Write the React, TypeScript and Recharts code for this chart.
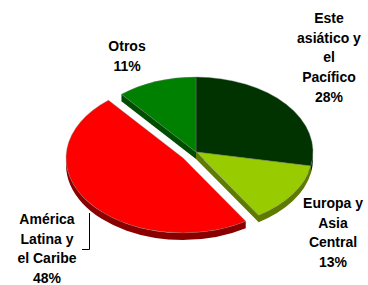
import { PieChart, Pie, Cell } from "recharts";

const regions = ["Este asiático y el Pacífico", "Europa y Asia Central", "América Latina y el Caribe", "Otros"];
const shares = [28, 13, 48, 11];
const labelLines = [
  ["Este", "asiático y", "el", "Pacífico", "28%"],
  ["Europa y", "Asia", "Central", "13%"],
  ["América", "Latina y", "el Caribe", "48%"],
  ["Otros", "11%"],
];
const topColors = ["#003300", "#99CC00", "#FF0000", "#008000"];
const sideColors = ["#001c00", "#5f7a00", "#8a0000", "#004c00"];
const exploded = "América Latina y el Caribe";

// where each label block sits (center x, first baseline)
const labelPos = [
  { x: 329, y: 23 },
  { x: 333, y: 208 },
  { x: 47, y: 224 },
  { x: 127, y: 51 },
];

const data = regions.map((name, i) => ({ name, value: shares[i] }));

const TILT = 0.64;
const DEPTH = 7;
const PULL = 16;
const RAD = Math.PI / 180;

const geom = (props: any) => {
  const name = props.name ?? props.payload?.name;
  let { cx, cy } = props;
  if (name === exploded) {
    cx += PULL * Math.cos(props.midAngle * RAD);
    cy -= PULL * TILT * Math.sin(props.midAngle * RAD);
  }
  const rx = props.outerRadius;
  const ry = rx * TILT;
  const a1 = Math.min(props.startAngle, props.endAngle);
  const a2 = Math.max(props.startAngle, props.endAngle);
  const pt = (a: number, dy = 0) => [cx + rx * Math.cos(a * RAD), cy - ry * Math.sin(a * RAD) + dy];
  return { name, cx, cy, rx, ry, a1, a2, pt };
};

const SideShape = (props: any) => {
  const { name, cx, cy, rx, ry, a1, a2, pt } = geom(props);
  const idx = regions.indexOf(name);
  const fill = sideColors[idx];
  const parts: string[] = [];
  // radial faces turned toward the viewer
  const radial = (a: number) => {
    const p = pt(a);
    parts.push(`M${cx},${cy} L${p[0]},${p[1]} L${p[0]},${p[1] + DEPTH} L${cx},${cy + DEPTH} Z`);
  };
  if (Math.cos(a1 * RAD) > 0) radial(a1);
  if (Math.cos(a2 * RAD) < 0) radial(a2);
  // front rim
  for (let k = -2; k <= 2; k++) {
    const lo = Math.max(a1, -180 + 360 * k);
    const hi = Math.min(a2, 360 * k);
    if (lo < hi) {
      const p = pt(lo);
      const q = pt(hi);
      parts.push(
        `M${p[0]},${p[1]} A${rx},${ry} 0 0 0 ${q[0]},${q[1]} L${q[0]},${q[1] + DEPTH} A${rx},${ry} 0 0 1 ${p[0]},${p[1] + DEPTH} Z`
      );
    }
  }
  return <path d={parts.join(" ")} fill={fill} />;
};

const TopShape = (props: any) => {
  const { name, cx, cy, rx, ry, a1, a2, pt } = geom(props);
  const idx = regions.indexOf(name);
  const p = pt(a1);
  const q = pt(a2);
  const large = a2 - a1 > 180 ? 1 : 0;
  return (
    <path
      d={`M${cx},${cy} L${p[0]},${p[1]} A${rx},${ry} 0 ${large} 0 ${q[0]},${q[1]} Z`}
      fill={topColors[idx]}
      stroke="#6f7f6f"
      strokeWidth={0.4}
    />
  );
};

const renderLabel = (props: any) => {
  const name = props.name ?? props.payload?.name;
  const idx = regions.indexOf(name);
  const pos = labelPos[idx];
  return (
    <g key={name}>
      <text
        x={pos.x}
        y={pos.y}
        textAnchor="middle"
        fontFamily="'Liberation Sans', Arial, sans-serif"
        fontWeight="bold"
        fontSize={14}
        fill="#000"
      >
        {labelLines[idx].map((t, i) => (
          <tspan key={i} x={pos.x} y={pos.y + i * 19.7}>
            {t}
          </tspan>
        ))}
      </text>
      {name === exploded && (
        <path d="M89.5,213 L89.5,249.5 L82,249.5" fill="none" stroke="#000" strokeWidth={1} />
      )}
    </g>
  );
};

export default function App() {
  return (
    <div style={{ position: "absolute", left: 0, top: 0, background: "#fff" }}>
      <PieChart width={368} height={285} margin={{ top: 0, right: 0, bottom: 0, left: 0 }}>
        <Pie
          data={data}
          dataKey="value"
          nameKey="name"
          cx={196}
          cy={152}
          outerRadius={117}
          startAngle={90}
          endAngle={-270}
          shape={SideShape}
          isAnimationActive={false}
        >
          {data.map((d, i) => (
            <Cell key={d.name} fill={sideColors[i]} />
          ))}
        </Pie>
        <Pie
          data={data}
          dataKey="value"
          nameKey="name"
          cx={196}
          cy={152}
          outerRadius={117}
          startAngle={90}
          endAngle={-270}
          shape={TopShape}
          label={renderLabel}
          labelLine={false}
          isAnimationActive={false}
        >
          {data.map((d, i) => (
            <Cell key={d.name} fill={topColors[i]} />
          ))}
        </Pie>
      </PieChart>
    </div>
  );
}
